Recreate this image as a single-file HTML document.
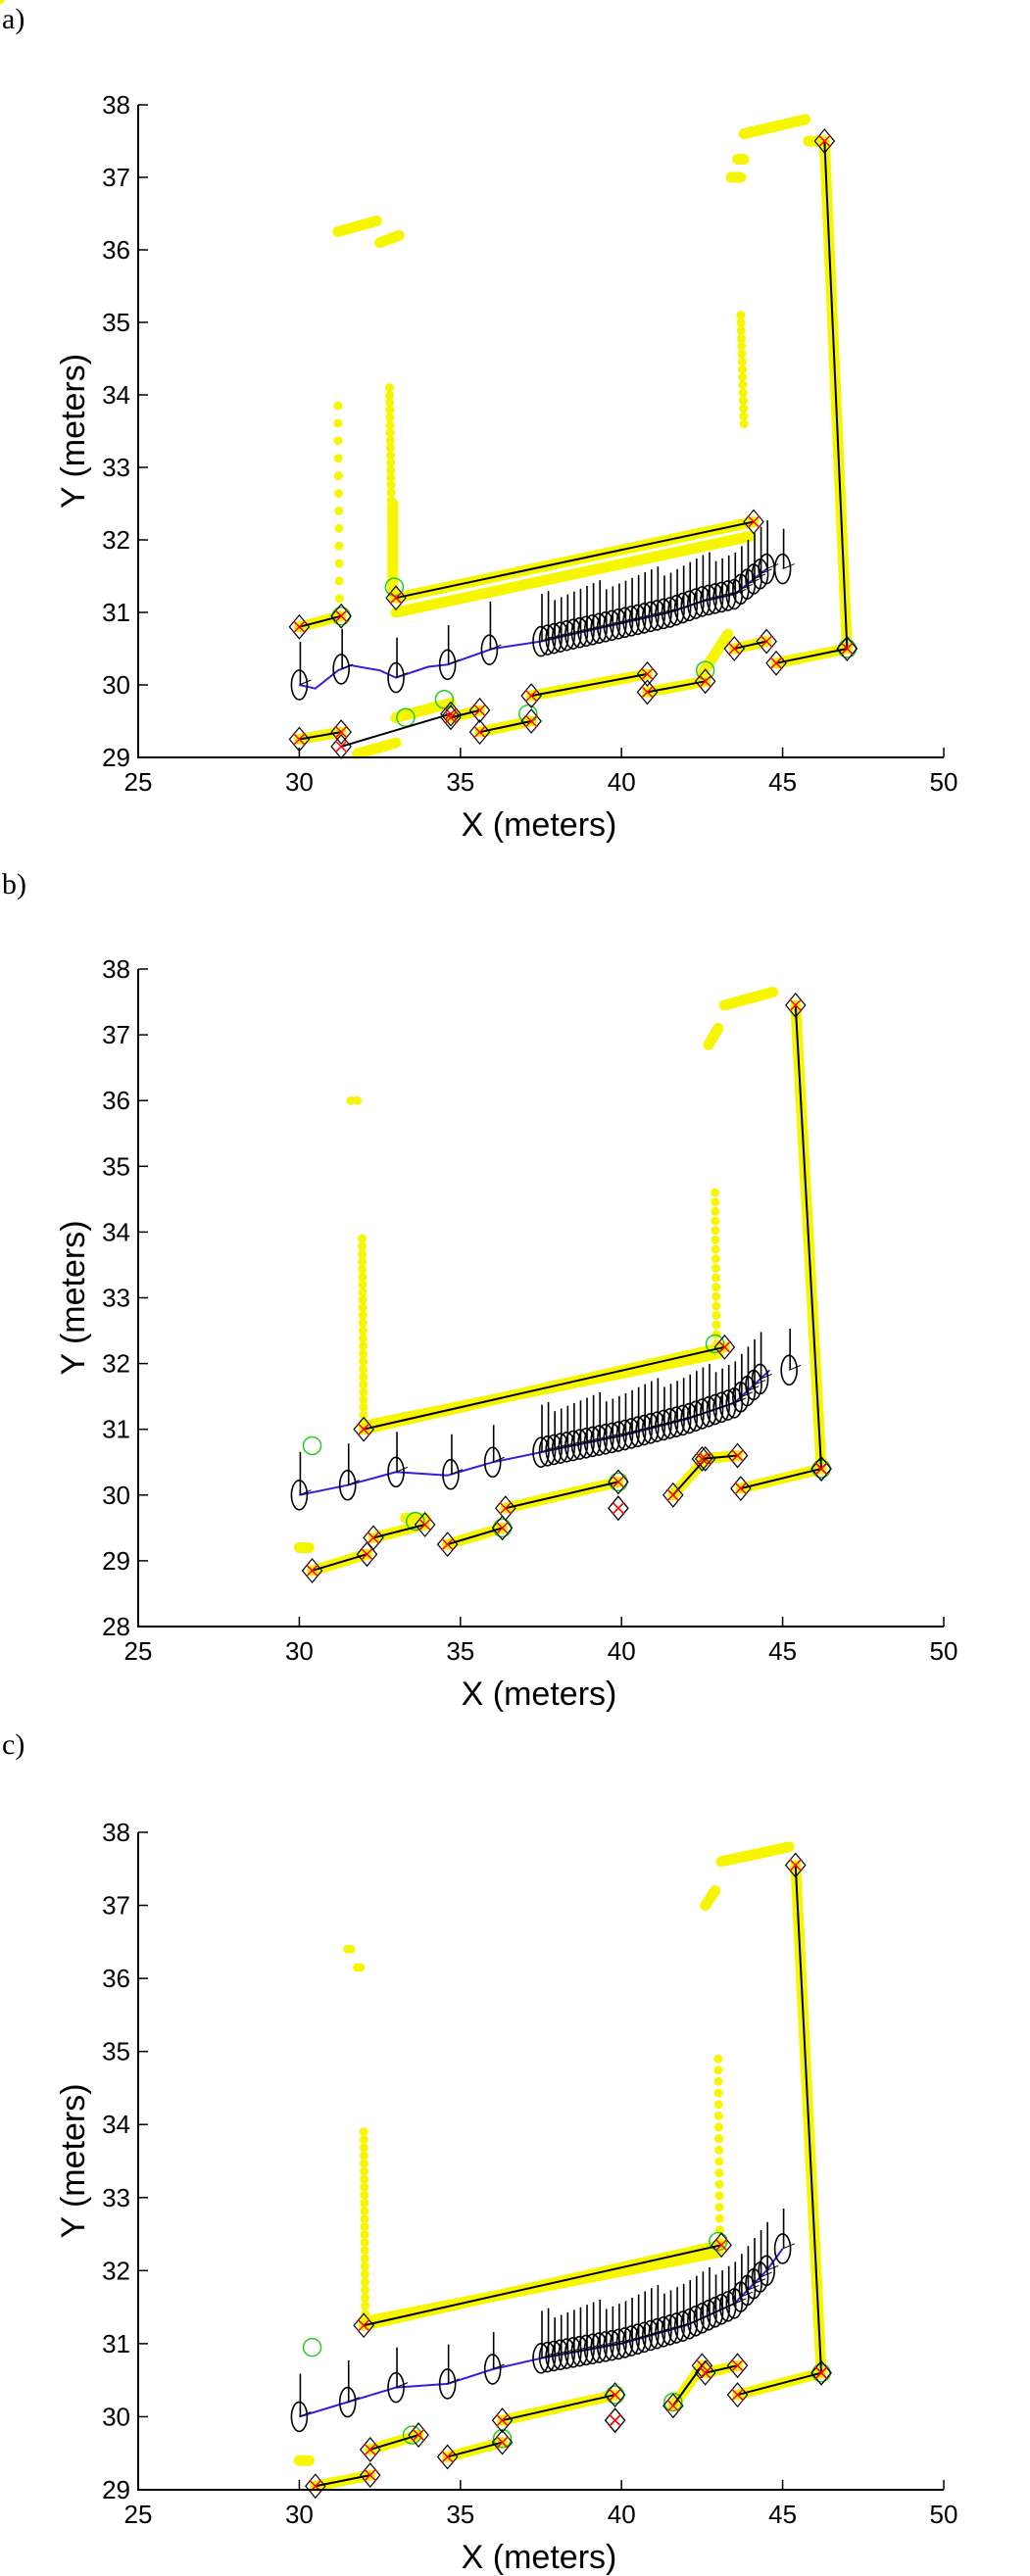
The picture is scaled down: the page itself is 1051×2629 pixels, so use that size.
<!DOCTYPE html>
<html><head><meta charset="utf-8">
<style>
body{margin:0;background:#fff;}
svg{display:block;}
text{font-family:"Liberation Sans",sans-serif;fill:#000;}
.pl{font-family:"Liberation Serif",serif;font-size:30px;}
</style></head>
<body>
<svg id="s" width="1051" height="2629" xmlns="http://www.w3.org/2000/svg">
<text class="pl" x="2" y="29">a)</text>
<text class="pl" x="2" y="912">b)</text>
<text class="pl" x="2" y="1790">c)</text>
</svg>
<script>
var S=document.getElementById('s');
var NS='http://www.w3.org/2000/svg';
function el(t,a,txt){var e=document.createElementNS(NS,t);for(var k in a)e.setAttribute(k,a[k]);if(txt!==undefined)e.textContent=txt;S.appendChild(e);return e;}
function panel(P){
 var L=141,R=963,T=P.top,B=P.bot,y0=P.y0,y1=38;
 var ux=(R-L)/25,uy=(B-T)/(y1-y0);
 function X(x){return L+(x-25)*ux;} function Y(y){return B-(y-y0)*uy;}
 function pts(a){return a.map(function(p){return X(p[0]).toFixed(1)+','+Y(p[1]).toFixed(1);}).join(' ');}
 P.yel.forEach(function(s){el('polyline',{points:pts(s),fill:'none',stroke:'#f6f600','stroke-width':11,'stroke-linecap':'round','stroke-linejoin':'round'});});
 P.dots.forEach(function(d){var n=d[4];for(var i=0;i<=n;i++){var x=d[0]+(d[2]-d[0])*i/n,y=d[1]+(d[3]-d[1])*i/n;el('circle',{cx:X(x),cy:Y(y),r:4.5,fill:'#f6f600'});}});
 P.green.forEach(function(g){el('circle',{cx:X(g[0]),cy:Y(g[1]),r:9,fill:'none',stroke:'#22cc22','stroke-width':1.5});});
 el('polyline',{points:pts(P.path),fill:'none',stroke:'#3a1ae0','stroke-width':2});
 P.ell.forEach(function(x){
  var p=P.path,y=p[0][1];for(var i=1;i<p.length;i++){if(x<=p[i][0]){var t=(x-p[i-1][0])/(p[i][0]-p[i-1][0]);y=p[i-1][1]+t*(p[i][1]-p[i-1][1]);break;}y=p[i][1];}
  var cx=X(x),cy=Y(y);
  el('ellipse',{cx:cx,cy:cy,rx:8,ry:15,fill:'none',stroke:'#000','stroke-width':1.6});
  el('line',{x1:cx+1,y1:cy,x2:cx+1,y2:cy-38-((x*7)%12),stroke:'#000','stroke-width':1.6});
  el('line',{x1:cx,y1:cy,x2:cx+12,y2:cy-5,stroke:'#000','stroke-width':1});
 });
 P.seg.forEach(function(s){
  el('line',{x1:X(s[0]),y1:Y(s[1]),x2:X(s[2]),y2:Y(s[3]),stroke:'#000','stroke-width':2});
  [[s[0],s[1]],[s[2],s[3]]].forEach(function(q){var cx=X(q[0]),cy=Y(q[1]);
   el('polygon',{points:(cx)+','+(cy-12)+' '+(cx+10)+','+cy+' '+cx+','+(cy+12)+' '+(cx-10)+','+cy,fill:'none',stroke:'#000','stroke-width':1.2});
   el('path',{d:'M'+(cx-6)+' '+(cy-6)+'L'+(cx+6)+' '+(cy+6)+'M'+(cx+6)+' '+(cy-6)+'L'+(cx-6)+' '+(cy+6),stroke:'#f00','stroke-width':1.5});});
 });
 el('path',{d:'M'+L+' '+T+'L'+L+' '+B+'L'+R+' '+B,fill:'none',stroke:'#000','stroke-width':2});
 for(var v=25;v<=50;v+=5){el('line',{x1:X(v),y1:B,x2:X(v),y2:B-10,stroke:'#000','stroke-width':1.5});
  el('text',{x:X(v),y:B+34,'text-anchor':'middle','font-size':26},String(v));}
 for(var w=y0;w<=38;w++){el('line',{x1:L,y1:Y(w),x2:L+10,y2:Y(w),stroke:'#000','stroke-width':1.5});
  el('text',{x:133,y:Y(w)+9,'text-anchor':'end','font-size':26},String(w));}
 el('text',{x:550,y:B+80,'text-anchor':'middle','font-size':34},'X (meters)');
 var cy=(T+B)/2;
 el('text',{x:0,y:0,'text-anchor':'middle','font-size':34,transform:'translate(86,'+cy+') rotate(-90)'},'Y (meters)');
}
function range(a,b,st){var r=[];for(var x=a;x<=b+1e-9;x+=st)r.push(x);return r;}
panel({top:107,bot:773,y0:29,
 yel:[[[30,30.8],[31.3,30.95]],[[33,31.2],[44.1,32.25]],[[33,31.0],[44,32.05]],[[46.3,37.5],[47,30.5]],[[44.8,30.3],[47,30.5]],[[43.5,30.5],[44.5,30.6]],[[42.5,30.15],[43.3,30.7]],
  [[30,29.25],[31.3,29.35]],[[31.8,29.05],[33,29.2]],[[33,29.55],[34.7,29.75]],[[34.7,29.55],[35.6,29.65]],[[35.6,29.35],[37.2,29.5]],[[37.2,29.85],[40.8,30.15]],[[40.8,29.9],[42.6,30.05]],
  [[31.2,36.25],[32.4,36.4]],[[32.5,36.1],[33.1,36.2]],[[43.8,37.6],[45.7,37.8]],[[45.8,37.5],[46.2,37.5]],[[43.4,37.0],[43.7,37.0]],[[43.6,37.25],[43.8,37.25]],[[32.9,31.3],[32.9,32.5]]],
 dots:[[32.8,34.1,32.9,31.2,28],[31.2,33.85,31.25,30.95,12],[43.7,35.1,43.8,33.6,14],[43.2,37.2,43.2,37.2,0]],
 green:[[31.3,30.95],[32.95,31.35],[33.3,29.55],[34.5,29.8],[37.1,29.6],[47,30.5],[42.6,30.2]],
 path:[[30,30],[30.5,29.95],[31.2,30.2],[31.6,30.27],[32.5,30.2],[33,30.1],[34,30.25],[34.6,30.28],[36,30.5],[37.5,30.6],[38.5,30.7],[40,30.85],[41.5,31],[42.5,31.15],[43.5,31.25],[44.5,31.6]],
 ell:[30,31.3,33,34.6,35.9].concat(range(37.5,44.5,0.2)).concat([45]),
 seg:[[30,30.8,31.3,30.95],[33,31.2,44.1,32.25],[46.3,37.5,47,30.5],[44.8,30.3,47,30.5],[43.5,30.5,44.5,30.6],[30,29.25,31.3,29.35],[31.3,29.15,34.7,29.6],[34.7,29.55,35.6,29.65],[35.6,29.35,37.2,29.5],[37.2,29.85,40.8,30.15],[40.8,29.9,42.6,30.05]]
});
panel({top:989,bot:1660,y0:28,
 yel:[[[32,31.0],[43.2,32.25]],[[32,31.05],[43,32.15]],[[45.4,37.45],[46.2,30.4]],[[43.7,30.1],[46.2,30.4]],[[43.2,37.45],[44.7,37.65]],[[42.7,36.85],[43,37.1]],
  [[30.4,28.85],[32.1,29.1]],[[32.3,29.35],[33.9,29.55]],[[34.6,29.25],[36.3,29.5]],[[36.4,29.8],[39.9,30.2]],[[41.6,30.0],[42.6,30.55]],[[42.5,30.55],[43.6,30.6]],[[33.3,29.65],[33.9,29.65]],[[30,29.2],[30.3,29.2]]],
 dots:[[31.95,33.9,32.0,31.1,24],[42.9,34.6,42.95,32.3,16],[31.4,36.25,31.4,36.25,0],[31.6,36.0,31.8,36.0,1]],
 green:[[30.4,30.75],[33.6,29.6],[42.9,32.3],[46.2,30.4],[39.9,30.2],[36.3,29.5]],
 path:[[30,30],[31.5,30.15],[33,30.35],[34.6,30.3],[36,30.5],[37.5,30.65],[40,30.9],[42,31.15],[43.5,31.4],[44.6,31.9]],
 ell:[30,31.5,33,34.7,36].concat(range(37.5,44.4,0.2)).concat([45.2]),
 seg:[[32,31.0,43.2,32.25],[45.4,37.45,46.2,30.4],[43.7,30.1,46.2,30.4],[30.4,28.85,32.1,29.1],[32.3,29.35,33.9,29.55],[34.6,29.25,36.3,29.5],[36.4,29.8,39.9,30.2],[39.9,29.8,39.9,29.8],[41.6,30.0,42.6,30.55],[42.5,30.55,43.6,30.6]]
});
panel({top:1870,bot:2541,y0:29,
 yel:[[[32,31.25],[43.1,32.35]],[[32,31.3],[43,32.25]],[[45.4,37.55],[46.2,30.6]],[[43.6,30.3],[46.2,30.6]],[[43.1,37.6],[45.2,37.8]],[[42.6,37.0],[42.9,37.2]],
  [[30.5,29.05],[32.2,29.2]],[[32.2,29.55],[33.7,29.75]],[[34.6,29.45],[36.3,29.65]],[[36.3,29.95],[39.8,30.3]],[[41.6,30.15],[42.5,30.7]],[[42.6,30.6],[43.6,30.7]],[[30,29.4],[30.3,29.4]]],
 dots:[[32.0,33.9,32.05,31.3,24],[43.0,34.9,43.05,32.4,16],[31.5,36.4,31.6,36.4,1],[31.8,36.15,31.9,36.15,1]],
 green:[[30.4,30.95],[33.5,29.75],[43,32.4],[46.2,30.6],[39.8,30.3],[36.3,29.7],[41.6,30.2]],
 path:[[30,30],[31.5,30.2],[33,30.4],[34.6,30.45],[36,30.65],[37.5,30.8],[40,31],[42,31.25],[43.5,31.55],[44.5,32],[45,32.3]],
 ell:[30,31.5,33,34.6,36].concat(range(37.5,44.5,0.2)).concat([45]),
 seg:[[32,31.25,43.1,32.35],[45.4,37.55,46.2,30.6],[43.6,30.3,46.2,30.6],[30.5,29.05,32.2,29.2],[32.2,29.55,33.7,29.75],[34.6,29.45,36.3,29.65],[36.3,29.95,39.8,30.3],[39.8,29.95,39.8,29.95],[41.6,30.15,42.5,30.7],[42.6,30.6,43.6,30.7]]
});
</script>
</body></html>
